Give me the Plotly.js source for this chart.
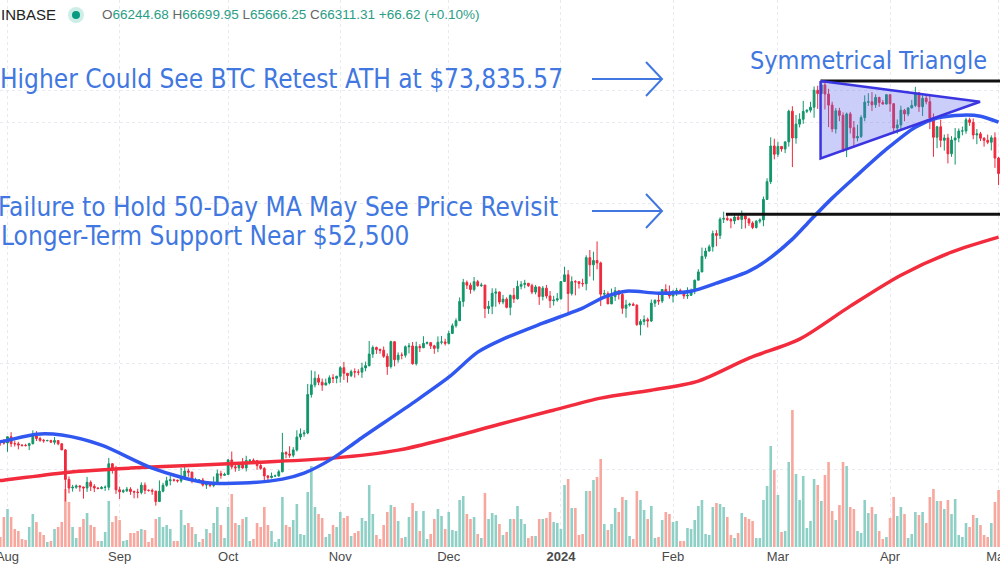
<!DOCTYPE html>
<html><head><meta charset="utf-8">
<script src="https://cdn.plot.ly/plotly-3.0.1.min.js"></script>
<style>html,body{margin:0;padding:0;background:#fff}#chart{width:1000px;height:572px}</style>
</head><body><div id="chart"></div>
<script>
// ---- daily BTC/USD candles, 2023-07-30 .. 2024-05-01 ----
const startDate = '2023-07-30';
const opens = [
29360,29280,
29230,29700,29180,29170,29080,29050,29040,29180,29770,29570,29430,29400,29420,29290,29410,29170,28720,26630,26050,26100,26190,26120,26050,26430,26160,26050,26010,26090,26100,27720,27300,
25930,25800,25870,25970,25820,25780,25750,26240,25900,25890,25840,25160,25840,26230,26540,26600,26570,26530,26760,27210,27130,26570,26580,26590,26250,26300,26220,26370,27020,26910,
26970,27990,27500,27430,27790,27420,27950,27970,27940,27590,27390,26870,26760,26860,26870,27160,28520,28420,28330,28720,29680,29920,29990,33090,33920,34500,34150,33900,34090,34540,34500,
34670,35440,34940,34730,35080,35050,35040,35420,35630,36700,37320,37130,37060,36490,35550,37880,36170,36600,36590,37390,37470,35810,37420,37300,37720,37790,37480,37240,37830,37860,
37720,38690,39460,39970,41990,44090,43780,43290,44170,43720,43790,41240,41470,42880,43020,41930,42240,41360,42650,42270,43650,43860,43990,43720,43010,43580,42520,43440,42580,42070,42140,
42280,44180,44950,42850,44180,44160,43970,43930,46970,46120,46630,46340,42780,42840,41730,42510,43150,42740,41260,41620,41690,41580,39570,39890,40080,39940,41810,42120,42030,43300,42950,
42580,43080,43180,43010,42580,42660,43090,44340,45290,47130,47770,48290,49960,49720,51820,51930,51790,51600,52120,51780,52270,51850,51320,50740,51570,51730,54520,57050,62500,
61200,62440,62030,63170,68330,63800,66100,66930,68300,68500,69020,72100,71480,73080,71400,69400,65300,68390,67600,61930,67850,65500,63800,64050,67210,69930,69990,69450,70780,69850,69580,
71280,69650,65460,65970,68500,67840,68900,69350,71620,69120,70630,70010,67150,63910,65660,63420,63800,61270,63470,63800,64940,64960,66840,66400,64290,64480,63760,63420,63110,63840,
60610];
const highs = [
29450,29530,
29740,30050,29410,29320,29110,29170,29250,30190,30130,29710,29540,29470,29470,29680,29450,29220,28780,26830,26260,26290,26250,26140,26800,26560,26310,26100,26180,26220,28140,27760,27570,
26130,25970,26120,26100,25880,26000,26430,26420,25940,26010,25870,26560,26400,26810,26880,26680,26620,27420,27490,27380,27160,26740,26630,26730,26430,26390,26830,27300,27230,27090,
28060,28600,27670,27830,28120,28290,28050,28100,27990,27740,27480,26940,27100,26960,27290,30000,28620,28990,28920,30200,30340,30220,34000,35200,35130,34830,34470,34470,34750,34860,34720,
35580,35970,34950,35260,35380,35290,35900,36000,37950,37520,37410,37230,37420,36760,37980,37930,36860,36850,37520,37750,37850,37880,37640,38420,37900,37830,37580,38400,38440,38170,
38960,39690,40220,42420,44490,44300,44050,44700,44370,44040,43800,42050,43430,43420,43080,42700,42430,42750,43470,44280,44230,44380,44020,43940,43800,43590,43680,43800,43120,42600,42900,
44190,45900,45500,44770,44340,44230,44500,47250,47900,47690,48970,46490,43250,43080,43400,43570,43200,42930,42170,41850,41870,41700,40120,40520,40290,42200,42200,42840,43310,43880,43740,
43260,43480,43380,43120,43540,43400,44390,45600,48200,48170,48570,50340,50400,52080,52830,52580,51990,52380,52490,52990,52370,52020,51550,51690,51950,54920,57550,63900,63680,
63200,62450,63200,68600,69200,67650,67960,70150,68620,69990,72800,72930,73650,73835.57,72360,70000,68880,68920,68120,68100,68200,66630,65990,67610,71160,71550,71740,71350,70900,70330,71360,
71300,69670,66900,69290,68730,69000,70300,72720,71750,71170,71260,71230,67930,65820,66870,64360,64480,64100,65450,65380,65680,67200,67200,67070,65280,64800,63920,64360,64230,64730,
60780];
const lows = [
29030,29110,
28580,28940,28970,28760,28960,28970,28700,29120,29380,29320,29250,29360,29260,29110,29060,28700,25170,25700,25810,26000,25810,25350,25790,25850,25780,25980,25970,25860,25900,27030,25660,
25330,25710,25780,25600,25370,25380,25630,25650,25810,25600,24900,25140,25760,26130,26230,26480,26420,26400,26680,26810,26370,26500,26510,26150,25990,26100,26100,26340,26680,26890,
26960,27330,27160,27210,27370,27180,27850,27700,27290,27300,26560,26560,26690,26810,26810,27110,28110,28140,28180,28600,29470,29700,29890,32830,33700,33890,33400,33890,33960,34080,34060,
34110,34350,34120,34600,34550,34760,34530,35120,35550,36350,36720,36730,36340,34800,35370,35570,35900,36210,36370,36760,35700,35640,36890,37260,37610,37180,36730,36880,37620,37510,
37620,38650,39270,39970,41420,43350,42830,43080,43600,43580,40230,40680,40640,41420,41680,41690,41260,40530,41830,42200,43310,43430,43580,42780,42760,41620,42100,42310,41300,41550,41970,
42190,44160,40750,42630,42650,43400,43600,43200,44760,44300,45600,41500,42430,41720,41700,42050,42200,40680,40280,41450,41500,39450,38500,39510,39290,39830,41400,41630,41810,42700,42290,
41880,42580,42880,42260,42270,42580,42780,44330,45250,46820,47720,47700,48360,49270,51330,51580,50640,51170,51690,50550,50630,50940,50530,50600,51280,50900,54460,56700,60400,
60790,61600,61370,62400,59220,62880,65550,66150,67990,68100,67190,68730,71330,68620,65600,64760,64540,66600,61540,60760,64530,62270,63250,63800,66600,69250,68380,68900,69100,69540,69570,
68220,64520,64500,65080,66590,67460,68820,69050,68210,67500,69550,65260,60800,62160,62300,61770,59770,60800,59600,63100,64240,64500,65800,63600,62800,63300,62400,62800,61800,59100,
56550];
const closes = [
29280,29230,
29700,29180,29170,29080,29050,29040,29180,29770,29570,29430,29400,29420,29290,29410,29170,28720,26630,26050,26100,26190,26120,26050,26430,26160,26050,26010,26090,26100,27720,27300,25930,
25800,25870,25970,25820,25780,25750,26240,25900,25890,25840,25160,25840,26230,26540,26600,26570,26530,26760,27210,27130,26570,26580,26590,26250,26300,26220,26370,27020,26910,26970,
27990,27500,27430,27790,27420,27950,27970,27940,27590,27390,26870,26760,26860,26870,27160,28520,28420,28330,28720,29680,29920,29990,33090,33920,34500,34150,33900,34090,34540,34500,34670,
35440,34940,34730,35080,35050,35040,35420,35630,36700,37320,37130,37060,36490,35550,37880,36170,36600,36590,37390,37470,35810,37420,37300,37720,37790,37480,37240,37830,37860,37720,
38690,39460,39970,41990,44090,43780,43290,44170,43720,43790,41240,41470,42880,43020,41930,42240,41360,42650,42270,43650,43860,43990,43720,43010,43580,42520,43440,42580,42070,42140,42280,
44180,44950,42850,44180,44160,43970,43930,46970,46120,46630,46340,42780,42840,41730,42510,43150,42740,41260,41620,41690,41580,39570,39890,40080,39940,41810,42120,42030,43300,42950,42580,
43080,43180,43010,42580,42660,43090,44340,45290,47130,47770,48290,49960,49720,51820,51930,51790,51600,52120,51780,52270,51850,51320,50740,51570,51730,54520,57050,62500,61200,
62440,62030,63170,68330,63800,66100,66930,68300,68500,69020,72100,71480,73080,71400,69400,65300,68390,67600,61930,67850,65500,63800,64050,67210,69930,69990,69450,70780,69850,69580,71280,
69650,65460,65970,68500,67840,68900,69350,71620,69120,70630,70010,67150,63910,65660,63420,63800,61270,63470,63800,64940,64960,66840,66400,64290,64480,63760,63420,63110,63840,60610,
58250];
const volumes = [
10,30,
38,30,18,16,8,7,20,33,25,15,12,5,6,18,20,25,58,45,20,9,20,28,34,22,20,6,6,15,46,25,31,
27,6,7,14,14,16,18,17,5,9,28,30,20,22,18,6,6,37,22,24,20,13,5,8,18,14,24,40,22,9,
40,53,24,22,28,30,6,8,24,20,40,22,16,5,8,50,22,20,27,43,13,12,55,81,40,33,29,10,13,22,20,
35,29,31,11,14,16,29,26,62,33,12,8,22,35,42,40,26,9,10,30,44,36,16,36,8,13,28,38,31,18,
35,17,16,47,51,33,28,30,13,9,54,28,34,32,23,12,15,28,28,41,28,23,9,11,11,28,28,29,35,25,24,
18,62,68,39,39,12,13,56,56,67,70,88,23,17,23,39,35,50,47,11,8,56,47,37,28,41,9,10,27,35,33,
25,26,6,6,19,18,27,41,47,13,12,40,44,43,40,30,12,9,14,34,30,28,26,9,9,47,61,101,77,
52,15,16,85,137,73,47,71,19,26,68,62,46,72,85,36,27,42,85,81,40,38,16,14,47,34,40,33,16,8,10,
29,50,31,40,33,9,13,35,32,35,24,50,58,46,46,38,47,33,48,12,10,24,20,32,29,22,12,10,24,45,
57];

// ---- moving averages ----
const ma50Dates = ['2023-07-29','2023-07-31','2023-08-09','2023-08-16','2023-08-27','2023-09-10','2023-09-24','2023-10-05','2023-10-16','2023-10-22','2023-10-30','2023-11-06','2023-11-21','2023-12-01','2023-12-09','2023-12-16','2023-12-27','2024-01-07','2024-01-13','2024-01-19','2024-01-28','2024-02-06','2024-02-13','2024-02-22','2024-02-27','2024-03-05','2024-03-10','2024-03-16','2024-03-22','2024-03-31','2024-04-08','2024-04-14','2024-04-21','2024-04-26','2024-05-01'];
const ma50Values = [29300,29370,29900,29830,29070,27410,26440,26380,26650,27060,28120,29440,32370,34590,36880,38130,39720,41280,42460,43110,42890,43110,44000,45380,46670,49250,51700,54700,57570,62000,65590,67120,67640,67460,66430];
const ma200Dates = ['2023-07-29','2023-07-31','2023-08-18','2023-09-04','2023-09-22','2023-10-10','2023-10-30','2023-11-17','2023-12-01','2023-12-15','2023-12-29','2024-01-12','2024-01-26','2024-02-08','2024-02-22','2024-03-07','2024-03-21','2024-04-04','2024-04-18','2024-05-01'];
const ma200Values = [26540,26580,27130,27410,27620,27830,28120,28700,29600,30670,31720,32790,33460,34250,36320,38130,41490,44910,47640,49500];

// ---- drawn levels / pattern ----
const athPrice = 73835.57;
const supportPrice = 52500;
const triangleDates = ['2024-03-12 19:00','2024-04-25 21:00','2024-03-12 19:00','2024-03-12 19:00'];
const trianglePrices = [73835.57, 69990, 60540, 73835.57];
const athLineDates = ['2024-03-12 19:00','2024-05-03'];
const supportLineDates = ['2024-02-15 15:00','2024-05-03'];

// ---- axis ticks ----
const monthTicks = ['2023-08-01','2023-09-01','2023-10-01','2023-11-01','2023-12-01','2024-01-01','2024-02-01','2024-03-01','2024-04-01','2024-05-01'];
const monthLabels = ['Aug','Sep','Oct','Nov','Dec','<b>2024</b>','Feb','Mar','Apr','May'];
const gridPrices = [72100,66430,54000,35860,27340];

const dates = [];
const t0 = new Date(startDate + 'T00:00:00Z').getTime();
for (let i = 0; i < closes.length; i++) dates.push(new Date(t0 + i * 86400000).toISOString().slice(0, 10));

const UP = '#11966a', DOWN = '#f0283c';
const VUP = '#8fd0c6', VDOWN = '#f7a79d';
const volColors = closes.map((c, i) => c >= opens[i] ? VUP : VDOWN);

const traces = [
  {type:'bar', x:dates, y:volumes, marker:{color:volColors, line:{width:0}}, xaxis:'x', yaxis:'y', hoverinfo:'skip'},
  {type:'candlestick', x:dates, open:opens, high:highs, low:lows, close:closes, xaxis:'x', yaxis:'y2',
   increasing:{line:{color:UP, width:1}, fillcolor:UP}, decreasing:{line:{color:DOWN, width:1}, fillcolor:DOWN},
   whiskerwidth:0, hoverinfo:'skip'},
  {type:'scatter', mode:'lines', x:ma200Dates, y:ma200Values, yaxis:'y2', line:{color:'#f22c3d', width:3.5, shape:'spline', smoothing:0.8}, hoverinfo:'skip'},
  {type:'scatter', mode:'lines', x:ma50Dates, y:ma50Values, yaxis:'y2', line:{color:'#3057f0', width:3.5, shape:'spline', smoothing:0.8}, hoverinfo:'skip'},
  {type:'scatter', mode:'lines', x:athLineDates, y:[athPrice, athPrice], yaxis:'y2', line:{color:'#111', width:3}, hoverinfo:'skip'},
  {type:'scatter', mode:'lines', x:supportLineDates, y:[supportPrice, supportPrice], yaxis:'y2', line:{color:'#111', width:3}, hoverinfo:'skip'},
  {type:'scatter', mode:'lines', x:triangleDates, y:trianglePrices, yaxis:'y2', fill:'toself', fillcolor:'rgba(98,106,236,0.33)', line:{color:'#3a35e0', width:2.5}, hoverinfo:'skip'}
];

const PH = 547;
const px = v => v / 1000, py = v => 1 - v / PH;
const BLUE = '#4177e0';
const FONT = 'DejaVu Sans Condensed, DejaVu Sans, sans-serif';
function arrowPath(x0, x1, y, hx, hy) {
  return `M ${px(x0)},${py(y)} L ${px(x1)},${py(y)} M ${px(x1-hx)},${py(y-hy)} L ${px(x1)},${py(y)} L ${px(x1-hx)},${py(y+hy)}`;
}
const g = s => `<span style="color:#666">${s}</span>`;
const v = s => `<span style="color:#2a9d86">${s}</span>`;

const layout = {
  width:1000, height:572,
  margin:{l:0, r:0, t:0, b:25},
  paper_bgcolor:'#fff', plot_bgcolor:'#fff',
  showlegend:false, bargap:0.28, boxgap:0.3,
  xaxis:{type:'date', range:['2023-07-29 22:14','2024-05-01 09:36'], tickvals:monthTicks, ticktext:monthLabels,
    showgrid:true, gridcolor:'#e9e9f1', griddash:'dot', gridwidth:1, ticks:'', showline:false, zeroline:false,
    ticklabeloverflow:'allow',
    tickfont:{family:'Liberation Sans, Arial, sans-serif', size:13, color:'#4a4a4a'}, rangeslider:{visible:false}, fixedrange:true},
  yaxis:{range:[0, PH], showgrid:false, showticklabels:false, zeroline:false, ticks:'', fixedrange:true},
  yaxis2:{type:'log', overlaying:'y', range:[Math.log10(22400), Math.log10(90818)], tickvals:gridPrices,
    showticklabels:false, showgrid:true, gridcolor:'#e9e9f1', griddash:'dot', gridwidth:1, zeroline:false, ticks:'', fixedrange:true},
  shapes:[
    {type:'circle', xref:'paper', yref:'paper', x0:px(68), x1:px(84), y0:py(23), y1:py(7), fillcolor:'#cdeee7', line:{width:0}},
    {type:'circle', xref:'paper', yref:'paper', x0:px(72), x1:px(80), y0:py(19), y1:py(11), fillcolor:'#089981', line:{width:0}},
    {type:'path', xref:'paper', yref:'paper', path:arrowPath(592, 662, 79, 16, 17), line:{color:BLUE, width:2}},
    {type:'path', xref:'paper', yref:'paper', path:arrowPath(592, 662, 211, 16, 17), line:{color:BLUE, width:2}}
  ],
  annotations:[
    {xref:'paper', yref:'paper', x:px(-1), y:py(15), xanchor:'left', yanchor:'middle', showarrow:false,
     text:'INBASE', font:{family:'Liberation Sans, Arial, sans-serif', size:15, color:'#222'}},
    {xref:'paper', yref:'paper', x:px(100), y:py(15), xanchor:'left', yanchor:'middle', showarrow:false,
     text:`${g('O')}${v('66244.68')} ${g('H')}${v('66699.95')} ${g('L')}${v('65666.25')} ${g('C')}${v('66311.31')} ${v('+66.62 (+0.10%)')}`,
     font:{family:'Liberation Sans, Arial, sans-serif', size:13.5, color:'#2a9d86'}},
    {xref:'paper', yref:'paper', x:px(565), y:py(79), xanchor:'right', yanchor:'middle', showarrow:false,
     text:'Higher Could See BTC Retest ATH at $73,835.57', font:{family:FONT, size:26, color:BLUE}},
    {xref:'paper', yref:'paper', x:px(560), y:py(207), xanchor:'right', yanchor:'middle', showarrow:false,
     text:'Failure to Hold 50-Day MA May See Price Revisit', font:{family:FONT, size:26, color:BLUE}},
    {xref:'paper', yref:'paper', x:px(411), y:py(236), xanchor:'right', yanchor:'middle', showarrow:false,
     text:'Longer-Term Support Near $52,500', font:{family:FONT, size:26, color:BLUE}},
    {xref:'paper', yref:'paper', x:px(868), y:py(60), xanchor:'center', yanchor:'middle', showarrow:false,
     text:'Symmetrical Triangle', font:{family:FONT, size:25, color:BLUE}}
  ]
};

Plotly.newPlot('chart', traces, layout, {staticPlot:true, displayModeBar:false});
</script></body></html>
